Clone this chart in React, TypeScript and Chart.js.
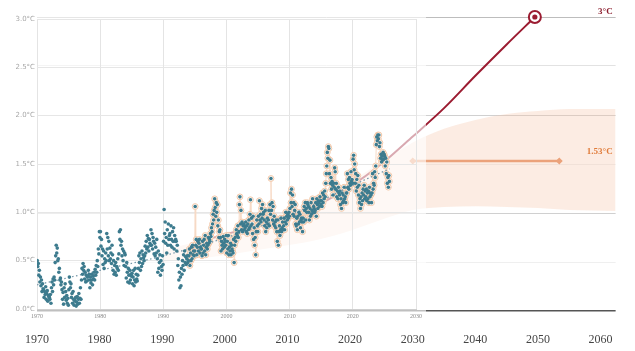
import React, { useEffect, useRef } from 'react';
import { Chart, registerables } from 'chart.js';

Chart.register(...registerables);

// Monthly temperature anomalies (°C), one row per year
const temps1970s = [
  0.50, 0.44, 0.47, 0.35, 0.40, 0.28, 0.33, 0.24, 0.30, 0.18, 0.26, 0.21,
  0.20, 0.12, 0.18, 0.15, 0.23, 0.10, 0.16, 0.19, 0.08, 0.14, 0.13, 0.12,
  0.10, 0.15, 0.06, 0.22, 0.28, 0.18, 0.31, 0.25, 0.33, 0.30, 0.48, 0.55,
  0.66, 0.58, 0.63, 0.50, 0.52, 0.38, 0.42, 0.30, 0.32, 0.25, 0.28, 0.20,
  0.10, 0.17, 0.05, 0.22, 0.12, 0.26, 0.18, 0.09, 0.14, 0.06, 0.11, 0.04,
  0.20, 0.33, 0.28, 0.22, 0.26, 0.12, 0.16, 0.06, 0.18, 0.10, 0.04, 0.09,
  0.08, 0.12, 0.03, 0.07, 0.13, 0.05, 0.10, 0.16, 0.06, 0.11, 0.22, 0.10,
  0.30, 0.42, 0.36, 0.47, 0.40, 0.44, 0.31, 0.38, 0.28, 0.35, 0.29, 0.33,
  0.34, 0.40, 0.30, 0.36, 0.22, 0.33, 0.27, 0.30, 0.36, 0.25, 0.34, 0.31,
  0.38, 0.30, 0.41, 0.35, 0.45, 0.38, 0.50, 0.44, 0.62, 0.57, 0.80, 0.74,
];
const temps1980s = [
  0.80, 0.65, 0.72, 0.55, 0.62, 0.46, 0.60, 0.42, 0.52, 0.48, 0.58, 0.50,
  0.78, 0.62, 0.74, 0.55, 0.70, 0.50, 0.63, 0.52, 0.58, 0.47, 0.66, 0.56,
  0.40, 0.50, 0.36, 0.45, 0.38, 0.48, 0.35, 0.44, 0.42, 0.52, 0.40, 0.57,
  0.80, 0.72, 0.82, 0.66, 0.70, 0.55, 0.62, 0.50, 0.60, 0.45, 0.58, 0.56,
  0.44, 0.32, 0.48, 0.38, 0.28, 0.42, 0.35, 0.27, 0.40, 0.30, 0.36, 0.34,
  0.37, 0.26, 0.33, 0.40, 0.24, 0.30, 0.42, 0.28, 0.36, 0.31, 0.29, 0.35,
  0.42, 0.55, 0.48, 0.58, 0.40, 0.52, 0.44, 0.60, 0.47, 0.56, 0.53, 0.50,
  0.55, 0.65, 0.58, 0.70, 0.62, 0.76, 0.64, 0.73, 0.60, 0.72, 0.68, 0.66,
  0.82, 0.66, 0.78, 0.62, 0.74, 0.70, 0.57, 0.68, 0.55, 0.64, 0.58, 0.72,
  0.52, 0.38, 0.60, 0.42, 0.48, 0.56, 0.35, 0.50, 0.44, 0.40, 0.55, 0.46,
];
const temps1990s = [
  0.70, 1.03, 0.78, 0.90, 0.68, 0.74, 0.58, 0.82, 0.66, 0.88, 0.72, 0.76,
  0.78, 0.66, 0.86, 0.72, 0.64, 0.80, 0.70, 0.84, 0.62, 0.76, 0.70, 0.72,
  0.70, 0.60, 0.66, 0.45, 0.52, 0.30, 0.38, 0.22, 0.33, 0.24, 0.42, 0.36,
  0.50, 0.45, 0.56, 0.40, 0.60, 0.48, 0.54, 0.46, 0.52, 0.55, 0.48, 0.50,
  0.55, 0.62, 0.45, 0.58, 0.50, 0.64, 0.52, 0.66, 0.56, 0.60, 0.55, 0.60,
  1.06, 0.66, 0.72, 0.56, 0.64, 0.70, 0.60, 0.68, 0.72, 0.58, 0.64, 0.62,
  0.62, 0.55, 0.70, 0.58, 0.66, 0.72, 0.60, 0.76, 0.56, 0.64, 0.68, 0.62,
  0.66, 0.74, 0.68, 0.72, 0.70, 0.78, 0.75, 0.84, 0.80, 0.88, 0.98, 0.92,
  1.02, 1.14, 1.05, 0.96, 1.10, 1.00, 1.08, 0.86, 0.92, 0.74, 0.80, 0.82,
  0.74, 0.60, 0.70, 0.66, 0.62, 0.75, 0.68, 0.64, 0.72, 0.70, 0.66, 0.76,
];
const temps2000s = [
  0.58, 0.70, 0.62, 0.76, 0.56, 0.64, 0.60, 0.68, 0.56, 0.66, 0.62, 0.60,
  0.58, 0.72, 0.48, 0.66, 0.74, 0.70, 0.82, 0.78, 0.76, 0.86, 0.74, 0.80,
  1.08, 1.16, 0.88, 1.02, 0.82, 0.90, 0.80, 0.86, 0.88, 0.82, 0.86, 0.84,
  0.90, 0.80, 0.86, 0.78, 0.88, 0.82, 0.92, 0.84, 0.98, 1.13, 0.86, 0.94,
  0.88, 0.78, 0.96, 0.72, 0.84, 0.66, 0.74, 0.56, 0.80, 0.92, 0.86, 0.80,
  0.96, 0.88, 1.12, 0.92, 0.98, 0.90, 1.04, 0.94, 1.08, 0.98, 1.00, 0.92,
  0.86, 1.02, 0.80, 0.90, 0.84, 0.94, 0.88, 0.92, 1.02, 0.86, 1.08, 0.98,
  1.35, 1.02, 1.10, 0.92, 1.06, 0.88, 0.96, 0.86, 0.90, 0.84, 0.92, 0.80,
  0.70, 0.92, 0.66, 0.80, 0.86, 0.76, 0.82, 0.94, 0.80, 0.84, 0.90, 0.82,
  0.86, 0.94, 0.82, 0.90, 1.00, 0.88, 0.96, 0.92, 0.98, 0.94, 1.00, 0.96,
];
const temps2010s = [
  1.04, 1.20, 1.10, 1.24, 1.06, 1.18, 0.98, 1.10, 0.96, 1.02, 1.08, 0.88,
  0.86, 0.94, 0.82, 0.96, 0.88, 1.00, 0.90, 0.98, 0.84, 0.92, 0.94, 0.90,
  0.80, 0.94, 0.90, 1.06, 1.02, 1.10, 0.92, 1.04, 1.00, 1.10, 1.08, 1.06,
  1.00, 0.92, 1.04, 0.96, 1.10, 0.98, 1.02, 1.14, 1.00, 1.06, 1.04, 1.00,
  1.02, 1.10, 0.96, 1.14, 1.08, 1.04, 1.12, 1.10, 1.06, 1.16, 1.12, 1.08,
  1.12, 1.06, 1.20, 1.10, 1.18, 1.14, 1.22, 1.16, 1.30, 1.40, 1.48, 1.62,
  1.56, 1.68, 1.66, 1.40, 1.54, 1.30, 1.36, 1.24, 1.32, 1.28, 1.18, 1.30,
  1.26, 1.46, 1.42, 1.24, 1.30, 1.16, 1.22, 1.14, 1.26, 1.20, 1.18, 1.22,
  1.08, 1.14, 1.04, 1.20, 1.10, 1.18, 1.12, 1.26, 1.14, 1.16, 1.10, 1.20,
  1.20, 1.40, 1.26, 1.34, 1.24, 1.36, 1.30, 1.28, 1.42, 1.32, 1.34, 1.30,
];
const temps2020s = [
  1.55, 1.59, 1.44, 1.50, 1.30, 1.40, 1.22, 1.34, 1.26, 1.38, 1.18, 1.28,
  1.10, 1.14, 1.04, 1.16, 1.08, 1.20, 1.12, 1.24, 1.18, 1.28, 1.14, 1.22,
  1.16, 1.24, 1.12, 1.20, 1.14, 1.22, 1.10, 1.26, 1.16, 1.20, 1.18, 1.10,
  1.20, 1.40, 1.24, 1.30, 1.28, 1.42, 1.36, 1.48, 1.70, 1.78, 1.74, 1.80,
  1.76, 1.80, 1.68, 1.72, 1.56, 1.60, 1.52, 1.58, 1.54, 1.62, 1.55, 1.60,
  1.58, 1.48, 1.56, 1.40, 1.52, 1.30, 1.36, 1.26, 1.38, 1.32,
];
const decadeStarts = [1970, 1980, 1990, 2000, 2010, 2020];
const decadeSeries = [temps1970s, temps1980s, temps1990s, temps2000s, temps2010s, temps2020s];
const highlightFrom = 1994;

// Smoothed observed trend (dotted)
const trendYears = [1970, 1980, 1990, 2000, 2010, 2020, 2025.8];
const trendValues = [0.25, 0.40, 0.55, 0.74, 0.97, 1.28, 1.45];

// Projection curve
const projectionYears = [1996, 2000, 2005, 2010, 2015, 2020, 2025, 2030, 2035, 2040, 2045, 2049.5];
const projectionValues = [0.71, 0.78, 0.87, 0.97, 1.09, 1.27, 1.50, 1.78, 2.07, 2.40, 2.72, 3.0];

// Uncertainty band
const bandYears = [1990, 1995, 2000, 2005, 2010, 2015, 2020, 2025, 2030, 2035, 2040, 2045, 2050, 2055, 2062.4];
const bandUpper = [0.62, 0.70, 0.80, 0.90, 1.02, 1.16, 1.32, 1.52, 1.72, 1.86, 1.95, 2.01, 2.04, 2.06, 2.06];
const bandLower = [0.50, 0.53, 0.57, 0.62, 0.67, 0.73, 0.82, 0.93, 1.03, 1.06, 1.07, 1.06, 1.05, 1.03, 1.02];

// Target line and marker
const targetYears = [2030, 2053.4];
const targetValue = 1.53;
const targetLabel = '1.53°C';
const markerYear = 2049.5;
const markerValue = 3.0;
const markerLabel = '3°C';

// Axes
const innerTickYears = [1970, 1980, 1990, 2000, 2010, 2020, 2030];
const outerTickYears = [1970, 1980, 1990, 2000, 2010, 2020, 2030, 2040, 2050, 2060];
const yTickValues = [0, 0.5, 1.0, 1.5, 2.0, 2.5, 3.0];

const monthlyPoints = decadeSeries.flatMap((vals, d) =>
  vals.map((v, i) => ({ x: decadeStarts[d] + i / 12 + 1 / 24, y: v }))
);
const highlightPoints = monthlyPoints.filter((p) => p.x >= highlightFrom);
const zip = (xs: number[], ys: number[]) => xs.map((x, i) => ({ x, y: ys[i] }));

const serif = '"Liberation Serif", "DejaVu Serif", serif';

export default function App() {
  const outerRef = useRef<HTMLCanvasElement>(null);
  const innerRef = useRef<HTMLCanvasElement>(null);

  useEffect(() => {
    const labelPlugin = {
      id: 'endLabels',
      afterDatasetsDraw(chart: any) {
        const { ctx, chartArea, scales } = chart;
        const y = scales.y;
        ctx.save();
        ctx.font = `bold 9px ${serif}`;
        ctx.textAlign = 'right';
        ctx.textBaseline = 'middle';
        ctx.fillStyle = '#8a1c2c';
        ctx.fillText(markerLabel, chartArea.right - 3, y.getPixelForValue(markerValue) - 5);
        ctx.fillStyle = '#e07b39';
        ctx.fillText(targetLabel, chartArea.right - 3, y.getPixelForValue(targetValue) - 9);
        ctx.restore();
      },
    };

    const gridColor = (v: number) => {
      if (v === 0) return '#555555';
      if (v === 3) return '#bdbdbd';
      if (v === 2 || v === 1) return '#d0d0d0';
      if (v === 2.5) return '#e2e2e2';
      return '#efefef';
    };

    const outer = new Chart(outerRef.current!, {
      type: 'line',
      data: {
        datasets: [
          {
            data: zip(bandYears, bandUpper),
            borderWidth: 0,
            pointRadius: 0,
            fill: '+1',
            backgroundColor: 'rgba(246, 196, 168, 0.32)',
            cubicInterpolationMode: 'monotone',
            order: 5,
          } as any,
          {
            data: zip(bandYears, bandLower),
            borderWidth: 0,
            pointRadius: 0,
            fill: false,
            cubicInterpolationMode: 'monotone',
            order: 5,
          },
          {
            data: zip(projectionYears, projectionValues),
            borderColor: '#9b1c31',
            borderWidth: 2,
            pointRadius: 0,
            fill: false,
            cubicInterpolationMode: 'monotone',
            order: 3,
            clip: false,
          } as any,
          {
            data: targetYears.map((x) => ({ x, y: targetValue })),
            borderColor: '#eba27b',
            backgroundColor: '#eba27b',
            borderWidth: 2.5,
            pointStyle: 'rectRot',
            pointRadius: 3.5,
            pointBorderWidth: 0,
            fill: false,
            order: 2,
          },
          {
            data: [{ x: markerYear, y: markerValue }],
            showLine: false,
            pointRadius: 6,
            pointBorderWidth: 2,
            pointBorderColor: '#9b1c31',
            pointBackgroundColor: '#ffffff',
            order: 1,
            clip: false,
          } as any,
          {
            data: [{ x: markerYear, y: markerValue }],
            showLine: false,
            pointRadius: 2.6,
            pointBorderWidth: 0,
            pointBackgroundColor: '#9b1c31',
            order: 0,
            clip: false,
          } as any,
        ],
      },
      options: {
        animation: false,
        responsive: false,
        devicePixelRatio: 1,
        events: [],
        layout: { padding: { left: 37, right: 15, top: 17, bottom: 0 } },
        plugins: { legend: { display: false }, tooltip: { enabled: false } },
        scales: {
          x: {
            type: 'linear',
            min: 1970,
            max: 2062.4,
            afterBuildTicks: (s: any) => {
              s.ticks = outerTickYears.map((v) => ({ value: v }));
            },
            afterFit: (s: any) => {
              s.height = 40;
            },
            grid: { display: false, drawTicks: false },
            border: { display: false },
            ticks: {
              padding: 22,
              maxRotation: 0,
              autoSkip: false,
              color: '#444444',
              font: { family: serif, size: 12 },
              callback: (v: any) => String(v),
            },
          },
          y: {
            type: 'linear',
            min: 0,
            max: 3,
            afterBuildTicks: (s: any) => {
              s.ticks = yTickValues.map((v) => ({ value: v }));
            },
            afterFit: (s: any) => {
              s.width = 0;
            },
            ticks: { display: false },
            border: { display: false },
            grid: {
              drawTicks: false,
              color: (c: any) => gridColor(c.tick ? c.tick.value : -1),
              lineWidth: (c: any) => (c.tick && c.tick.value === 0 ? 1.5 : 1),
            },
          },
        },
      },
      plugins: [labelPlugin],
    } as any);

    const inner = new Chart(innerRef.current!, {
      type: 'line',
      data: {
        datasets: [
          {
            data: monthlyPoints,
            showLine: false,
            pointRadius: 1.8,
            pointBorderWidth: 0,
            pointBackgroundColor: '#3d7b8e',
            order: 0,
          },
          {
            data: zip(trendYears, trendValues),
            borderColor: '#7194a6',
            borderWidth: 1.2,
            borderDash: [1.5, 2.5],
            pointRadius: 0,
            fill: false,
            cubicInterpolationMode: 'monotone',
            order: 1,
          },
          {
            data: highlightPoints,
            borderColor: '#f7dac6',
            borderWidth: 1,
            pointRadius: 2.9,
            pointBorderWidth: 1,
            pointBorderColor: '#f2c6a6',
            pointBackgroundColor: '#ffffff',
            fill: false,
            tension: 0,
            order: 2,
          },
        ],
      },
      options: {
        animation: false,
        responsive: false,
        devicePixelRatio: 1,
        events: [],
        layout: { padding: { left: 0, right: 9, top: 19, bottom: 0 } },
        plugins: { legend: { display: false }, tooltip: { enabled: false } },
        scales: {
          x: {
            type: 'linear',
            min: 1970,
            max: 2030,
            afterBuildTicks: (s: any) => {
              s.ticks = innerTickYears.map((v) => ({ value: v }));
            },
            afterFit: (s: any) => {
              s.height = 13;
            },
            grid: { color: '#e4e4e4', drawTicks: false },
            border: { display: true, color: '#cfcfcf' },
            ticks: {
              padding: 4,
              maxRotation: 0,
              autoSkip: false,
              color: '#8a8a8a',
              font: { family: serif, size: 6 },
              callback: (v: any) => String(v),
            },
          },
          y: {
            type: 'linear',
            min: 0,
            max: 3,
            afterBuildTicks: (s: any) => {
              s.ticks = yTickValues.map((v) => ({ value: v }));
            },
            afterFit: (s: any) => {
              s.width = 37;
            },
            grid: { color: '#e6e6e6', drawTicks: false },
            border: { display: false },
            ticks: {
              padding: 2,
              color: '#a8a8a8',
              font: { family: '"DejaVu Sans", sans-serif', size: 7 },
              callback: (v: any) => `${Number(v).toFixed(1)}°C`,
            },
          },
        },
      },
    } as any);

    return () => {
      outer.destroy();
      inner.destroy();
    };
  }, []);

  return (
    <div style={{ position: 'fixed', left: 0, top: 0, width: 635, height: 351, background: '#ffffff', overflow: 'hidden' }}>
      <canvas ref={outerRef} width={635} height={351} style={{ position: 'absolute', left: 0, top: 0 }} />
      <canvas
        ref={innerRef}
        width={426}
        height={322}
        style={{ position: 'absolute', left: 0, top: 0, background: 'rgba(255,255,255,0.62)' }}
      />
    </div>
  );
}
